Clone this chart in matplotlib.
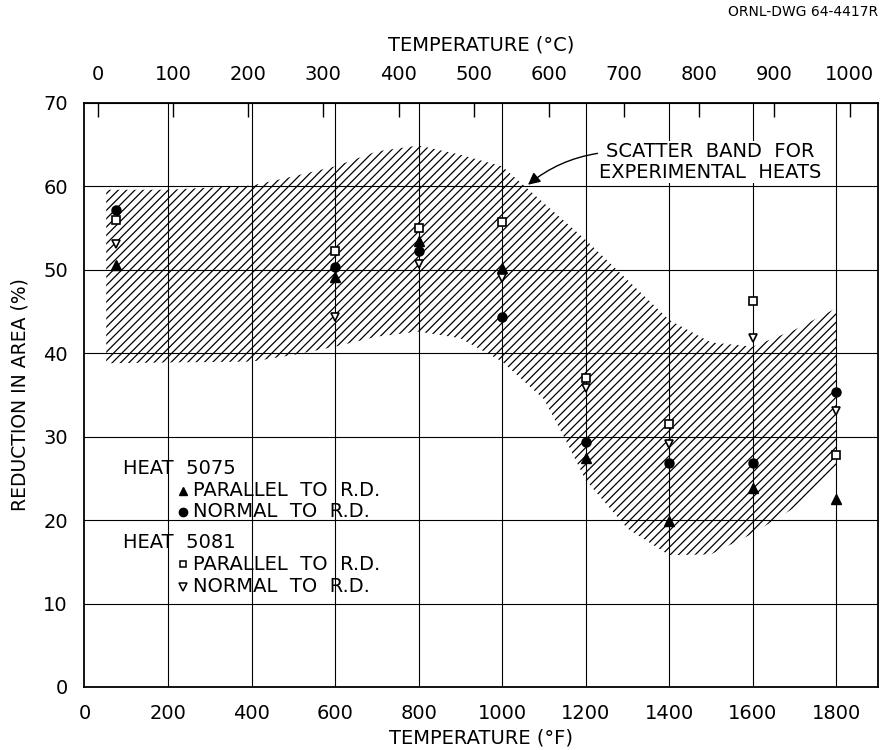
import numpy as np
import matplotlib
matplotlib.use("Agg")
import matplotlib.pyplot as plt

plt.rcParams['font.family'] = ['DejaVu Sans']
plt.rcParams['hatch.linewidth'] = 0.9

# temperatures tested (deg F) and reduction in area (%)
temp_f = [75, 600, 800, 1000, 1200, 1400, 1600, 1800]
h5075_par = [50.6, 49.1, 53.4, 50.2, 27.4, 19.9, 23.8, 22.5]
h5075_norm = [57.2, 50.4, 52.3, 44.3, 29.4, 26.8, 26.8, 35.3]
h5081_par = [56.0, 52.3, 55.0, 55.7, 37.0, 31.5, 46.3, 27.8]
h5081_norm = [53.1, 44.3, 50.7, 49.0, 35.8, 29.1, 41.8, 33.1]

# scatter band for experimental heats
band_x = [52, 200, 400, 500, 600, 700, 800, 900, 1000, 1100, 1150, 1200,
          1300, 1400, 1500, 1600, 1700, 1800]
band_hi = [59.6, 59.6, 60.1, 61.2, 62.4, 64.2, 64.9, 63.8, 62.4, 58.0, 55.8,
           53.6, 48.8, 44.0, 41.3, 40.8, 42.8, 45.4]
band_lo = [38.8, 38.9, 39.0, 39.8, 40.8, 42.0, 42.6, 41.8, 39.0, 34.5, 29.8,
           24.8, 19.0, 15.8, 15.9, 18.4, 21.5, 26.0]

c_ticks = list(range(0, 1001, 100))

fs = 14
fig = plt.figure(figsize=(8.81, 7.5), dpi=100)
ax = fig.add_axes([0.0959, 0.084, 0.9007, 0.7787])

ax.fill_between(band_x, band_lo, band_hi, facecolor='none', edgecolor='black',
                hatch='////', linewidth=0, zorder=1)

# graph paper grid
for x in range(200, 1900, 200):
    ax.axvline(x, color='black', lw=0.8, zorder=2)
for y in range(10, 70, 10):
    ax.axhline(y, color='black', lw=0.8, zorder=2)

ms = 6.5
ax.plot(temp_f, h5075_par, '^', color='black', ms=ms, zorder=4)
ax.plot(temp_f, h5075_norm, 'o', color='black', ms=ms, zorder=4)
ax.plot(temp_f, h5081_par, 's', mfc='white', mec='black', mew=1.2, ms=5.5, zorder=4)
ax.plot(temp_f, h5081_norm, 'v', mfc='white', mec='black', mew=1.2, ms=6, zorder=4)

ax.set_xlim(0, 1900)
ax.set_ylim(0, 70)
ax.set_xticks(range(0, 1900, 200))
ax.set_yticks(range(0, 71, 10))
ax.tick_params(axis='both', length=0, labelsize=fs)
ax.tick_params(axis='x', pad=12)
ax.tick_params(axis='y', pad=12)
for s in ax.spines.values():
    s.set_linewidth(1.3)

ax.set_xlabel('TEMPERATURE (°F)', fontsize=fs, labelpad=4)
ax.set_ylabel('REDUCTION IN AREA (%)', fontsize=13.5, labelpad=10)

sec = ax.secondary_xaxis('top', functions=(lambda f: (f - 32) * 5 / 9,
                                           lambda c: c * 9 / 5 + 32))
sec.set_xticks(c_ticks)
sec.tick_params(direction='in', length=10, width=1.0, labelsize=fs, pad=14)
sec.set_xlabel('TEMPERATURE (°C)', fontsize=fs, labelpad=10)

fig.text(0.997, 0.984, 'ORNL-DWG 64-4417R', ha='right', va='center', fontsize=10)

# legend written as text with markers
ax.text(92, 26.2, 'HEAT  5075', fontsize=fs, va='center')
ax.plot(235, 23.5, '^', color='black', ms=6)
ax.text(260, 23.5, 'PARALLEL  TO  R.D.', fontsize=fs, va='center')
ax.plot(235, 21.0, 'o', color='black', ms=6)
ax.text(260, 21.0, 'NORMAL  TO  R.D.', fontsize=fs, va='center')
ax.text(92, 17.3, 'HEAT  5081', fontsize=fs, va='center')
ax.plot(235, 14.7, 's', mfc='white', mec='black', mew=1.1, ms=5)
ax.text(260, 14.7, 'PARALLEL  TO  R.D.', fontsize=fs, va='center')
ax.plot(235, 12.0, 'v', mfc='white', mec='black', mew=1.1, ms=6)
ax.text(260, 12.0, 'NORMAL  TO  R.D.', fontsize=fs, va='center')

ax.annotate('SCATTER  BAND  FOR\nEXPERIMENTAL  HEATS', xy=(1062, 60.2),
            xytext=(1498, 62.9), fontsize=fs, ha='center', va='center',
            linespacing=1.1,
            bbox=dict(facecolor='white', edgecolor='none', pad=1),
            arrowprops=dict(arrowstyle='-|>', color='black', lw=1.0,
                            mutation_scale=18, shrinkA=0, shrinkB=0,
                            connectionstyle='arc3,rad=0.15',
                            relpos=(0.03, 0.75)),
            zorder=5)

fig.savefig('out.png', dpi=100)
